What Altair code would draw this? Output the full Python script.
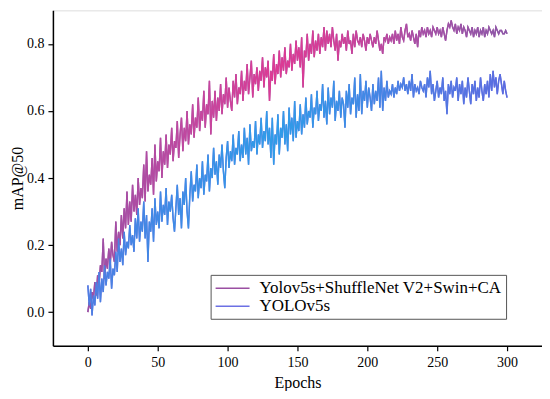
import altair as alt
import pandas as pd

S_NAME = "Yolov5s+ShuffleNet V2+Swin+CA"
B_NAME = "YOLOv5s"

epochs = list(range(0, 301))

s_vals = [
    0.00, 0.03, 0.01, 0.06, 0.04, 0.09, 0.05, 0.11, 0.08, 0.14,
    0.12, 0.22, 0.10, 0.16, 0.13, 0.19, 0.14, 0.21, 0.17, 0.15,
    0.27, 0.18, 0.24, 0.20, 0.29, 0.22, 0.31, 0.25, 0.36, 0.26,
    0.33, 0.27, 0.38, 0.30, 0.35, 0.29, 0.40, 0.32, 0.37, 0.34,
    0.44, 0.33, 0.48, 0.36, 0.41, 0.38, 0.46, 0.35, 0.50, 0.39,
    0.45, 0.42, 0.52, 0.40, 0.48, 0.44, 0.53, 0.43, 0.50, 0.47,
    0.55, 0.45, 0.51, 0.49, 0.57, 0.46, 0.53, 0.58, 0.48, 0.55,
    0.51, 0.60, 0.50, 0.56, 0.53, 0.62, 0.52, 0.58, 0.55, 0.64,
    0.54, 0.60, 0.57, 0.66, 0.55, 0.62, 0.59, 0.69, 0.53, 0.63,
    0.58, 0.66, 0.57, 0.64, 0.60, 0.68, 0.59, 0.65, 0.62, 0.70,
    0.61, 0.67, 0.63, 0.60, 0.69, 0.64, 0.71, 0.62, 0.67, 0.65,
    0.72, 0.63, 0.69, 0.66, 0.74, 0.65, 0.70, 0.75, 0.64, 0.71,
    0.68, 0.73, 0.66, 0.72, 0.69, 0.76, 0.67, 0.73, 0.70, 0.75,
    0.63, 0.72, 0.69, 0.77, 0.68, 0.74, 0.71, 0.78, 0.70, 0.76,
    0.72, 0.79, 0.71, 0.75, 0.73, 0.80, 0.72, 0.77, 0.74, 0.81,
    0.75, 0.79, 0.73, 0.82, 0.67, 0.78, 0.76, 0.83, 0.75, 0.80,
    0.77, 0.84, 0.76, 0.81, 0.78, 0.83, 0.77, 0.82, 0.79, 0.85,
    0.78, 0.84, 0.80, 0.83, 0.79, 0.85, 0.81, 0.78, 0.83, 0.75,
    0.81, 0.79, 0.83, 0.80, 0.82, 0.78, 0.84, 0.80, 0.81, 0.77,
    0.83, 0.79, 0.84, 0.81, 0.80, 0.82, 0.79, 0.83, 0.81, 0.78,
    0.82, 0.80, 0.83, 0.81, 0.79, 0.82, 0.80, 0.84, 0.81, 0.78,
    0.80, 0.77, 0.82, 0.81, 0.83, 0.80, 0.82, 0.81, 0.83, 0.80,
    0.84, 0.81, 0.83, 0.80, 0.85, 0.82, 0.81, 0.84, 0.86, 0.82,
    0.83, 0.81, 0.84, 0.82, 0.80, 0.83, 0.79, 0.84, 0.82, 0.85,
    0.83, 0.84, 0.82, 0.85, 0.83, 0.84, 0.82, 0.85, 0.84, 0.83,
    0.85, 0.83, 0.84, 0.82, 0.85, 0.83, 0.81, 0.84, 0.86, 0.85,
    0.87, 0.85, 0.84, 0.86, 0.83, 0.85, 0.84, 0.86, 0.83, 0.85,
    0.84, 0.82, 0.85, 0.84, 0.83, 0.85, 0.82, 0.84, 0.83, 0.85,
    0.82, 0.84, 0.83, 0.85, 0.82, 0.84, 0.83, 0.85, 0.84, 0.83,
    0.84, 0.82, 0.85, 0.84, 0.83, 0.84, 0.84, 0.83, 0.83, 0.84, 0.83,
]

b_vals = [
    0.08, 0.02, 0.07, -0.01, 0.05, 0.02, 0.09, 0.04, 0.12, 0.03,
    0.10, 0.06, 0.14, 0.08, 0.12, 0.10, 0.16, 0.07, 0.13, 0.11,
    0.18, 0.12, 0.22, 0.15, 0.19, 0.14, 0.24, 0.17, 0.21, 0.19,
    0.26, 0.20, 0.23, 0.18, 0.28, 0.22, 0.31, 0.21, 0.27, 0.24,
    0.33, 0.22, 0.29, 0.15, 0.27, 0.24, 0.31, 0.21, 0.34, 0.26,
    0.30, 0.25, 0.36, 0.27, 0.32, 0.29, 0.37, 0.26, 0.33, 0.30,
    0.35, 0.28, 0.24, 0.31, 0.38, 0.29, 0.34, 0.25, 0.36, 0.32,
    0.40, 0.30, 0.25, 0.35, 0.42, 0.33, 0.38, 0.36, 0.44, 0.34,
    0.40, 0.37, 0.45, 0.35, 0.41, 0.39, 0.47, 0.36, 0.43, 0.40,
    0.49, 0.41, 0.45, 0.38, 0.47, 0.43, 0.50, 0.42, 0.37, 0.46,
    0.51, 0.43, 0.48, 0.45, 0.53, 0.44, 0.49, 0.47, 0.54, 0.45,
    0.50, 0.46, 0.55, 0.47, 0.52, 0.44, 0.56, 0.48, 0.51, 0.49,
    0.57, 0.47, 0.53, 0.50, 0.58, 0.49, 0.54, 0.51, 0.60, 0.50,
    0.55, 0.46, 0.58, 0.44, 0.53, 0.50, 0.59, 0.47, 0.55, 0.52,
    0.60, 0.50, 0.56, 0.48, 0.61, 0.53, 0.58, 0.51, 0.63, 0.52,
    0.57, 0.54, 0.62, 0.53, 0.59, 0.55, 0.64, 0.56, 0.60, 0.58,
    0.65, 0.55, 0.61, 0.59, 0.66, 0.57, 0.62, 0.60, 0.68, 0.58,
    0.63, 0.56, 0.67, 0.59, 0.64, 0.61, 0.69, 0.57, 0.63, 0.60,
    0.66, 0.58, 0.64, 0.62, 0.55, 0.66, 0.61, 0.68, 0.59, 0.64,
    0.62, 0.70, 0.58, 0.65, 0.60, 0.71, 0.59, 0.66, 0.63, 0.69,
    0.61, 0.67, 0.64, 0.60, 0.68, 0.62, 0.66, 0.63, 0.70, 0.61,
    0.72, 0.60, 0.67, 0.63, 0.69, 0.64, 0.66, 0.65, 0.68, 0.64,
    0.67, 0.65, 0.69, 0.66, 0.68, 0.67, 0.70, 0.66, 0.68, 0.65,
    0.69, 0.66, 0.71, 0.64, 0.68, 0.66, 0.67, 0.65, 0.69, 0.67,
    0.66, 0.68, 0.64, 0.70, 0.67, 0.72, 0.65, 0.68, 0.63, 0.66,
    0.69, 0.64, 0.67, 0.65, 0.70, 0.63, 0.66, 0.59, 0.68, 0.65,
    0.69, 0.64, 0.67, 0.66, 0.70, 0.63, 0.68, 0.65, 0.69, 0.62,
    0.67, 0.64, 0.70, 0.66, 0.62, 0.68, 0.65, 0.69, 0.63, 0.67,
    0.64, 0.70, 0.66, 0.63, 0.68, 0.65, 0.69, 0.64, 0.71, 0.66,
    0.72, 0.67, 0.70, 0.65, 0.69, 0.71, 0.68, 0.65, 0.69, 0.66, 0.64,
]

series_names = [S_NAME, B_NAME]
legend_colors = ["#9a4fa2", "#6c70e4"]

s_grad_colors = ["#9a50a6", "#c3479f", "#dd3a94", "#d13f98", "#a650a6", "#8c58a8"]
b_grad_colors = ["#4d7ee2", "#3a8fe6", "#2f9ce8", "#3a90e6", "#4f7ae2", "#5b6ce0"]
grad_offsets = [0.0, 0.25, 0.45, 0.6, 0.8, 1.0]

x_ticks = list(range(0, 326, 25))
y_ticks = [0.0, 0.1, 0.2, 0.3, 0.4, 0.5, 0.6, 0.7, 0.8, 0.9]

df = pd.DataFrame({
    "epoch": epochs * 2,
    "map": s_vals + b_vals,
    "series": [S_NAME] * len(s_vals) + [B_NAME] * len(b_vals),
})

FONT = "Liberation Serif"

x_enc = alt.X(
    "epoch:Q",
    scale=alt.Scale(domain=[-25, 325], nice=False, zero=False),
    axis=alt.Axis(
        title="Epochs", values=x_ticks,
        labelExpr="datum.value % 50 == 0 ? datum.label : ''",
        grid=False, tickSize=5, labelPadding=5, titlePadding=5,
        labelFont=FONT, labelFontSize=14, titleFont=FONT, titleFontSize=16,
        titleFontWeight="normal", domainColor="black", tickColor="black",
        labelColor="black", titleColor="black", domainWidth=1.5, tickWidth=1.2,
    ),
)
y_enc = alt.Y(
    "map:Q",
    scale=alt.Scale(domain=[-0.1, 0.9], nice=False, zero=False),
    axis=alt.Axis(
        title="mAP@50", values=y_ticks, format=".1f",
        labelExpr="round(datum.value * 10) % 2 == 0 && datum.value < 0.85 ? datum.label : ''",
        grid=False, tickSize=5, labelPadding=4, titlePadding=1,
        labelFont=FONT, labelFontSize=14, titleFont=FONT, titleFontSize=16,
        titleFontWeight="normal", domainColor="black", tickColor="black",
        labelColor="black", titleColor="black", domainWidth=1.5, tickWidth=1.2,
    ),
)

base_lines = alt.Chart(df).mark_line(strokeWidth=1.4).encode(
    x=x_enc,
    y=y_enc,
    color=alt.Color(
        "series:N",
        scale=alt.Scale(domain=series_names, range=legend_colors),
        sort=series_names,
        legend=alt.Legend(
            title=None, orient="none", legendX=158, legendY=265,
            symbolType="M-1,0H3", symbolSize=289, symbolStrokeWidth=1.5,
            labelFont=FONT, labelFontSize=17, labelColor="black",
            labelLimit=400, strokeColor="#555555", padding=4,
            rowPadding=0, labelOffset=26, fillColor="white",
        ),
    ),
)


def grad(colors):
    return alt.Gradient(
        gradient="linear",
        stops=[alt.GradientStop(color=c, offset=o) for c, o in zip(colors, grad_offsets)],
        x1=0, x2=1, y1=0, y2=0,
    )


s_line = alt.Chart(df[df.series == S_NAME]).mark_line(
    strokeWidth=1.4, color=grad(s_grad_colors)
).encode(x="epoch:Q", y="map:Q")

b_line = alt.Chart(df[df.series == B_NAME]).mark_line(
    strokeWidth=1.4, color=grad(b_grad_colors)
).encode(x="epoch:Q", y="map:Q")

chart = alt.layer(base_lines, s_line, b_line).properties(
    width=490, height=336,
    autosize=alt.AutoSizeParams(type="none"),
    padding={"left": 45, "top": 2, "right": 0, "bottom": 45},
).configure_view(stroke=None).configure(background="white")

chart.save("out.html", embed_options={"renderer": "svg", "actions": False})
